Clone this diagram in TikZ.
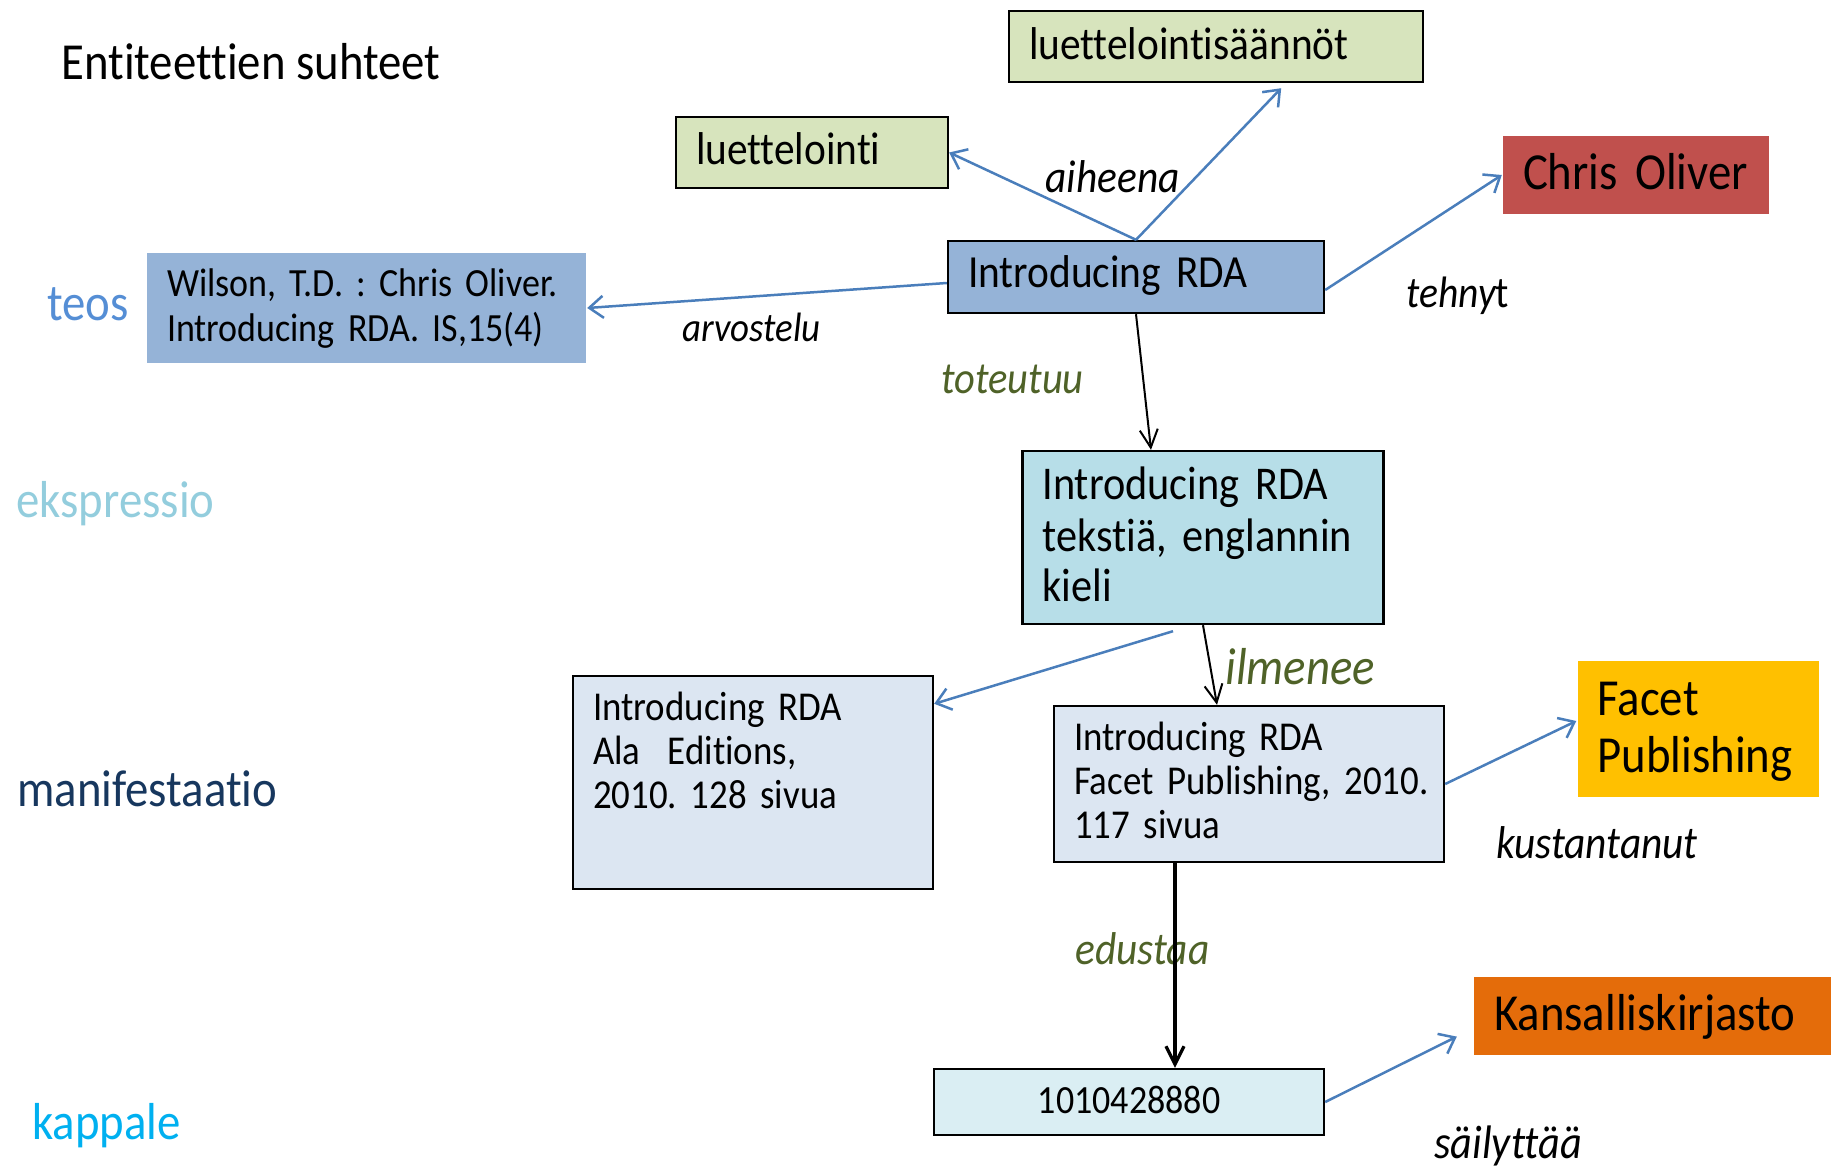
\documentclass[tikz,border=0pt]{standalone}
\usepackage{fontspec}
\setmainfont{Carlito}[FakeStretch=0.9, Ligatures=NoCommon]
\frenchspacing
\usetikzlibrary{arrows.meta}

\definecolor{subjgreen}{HTML}{D7E4BD}
\definecolor{workblue}{HTML}{95B3D7}
\definecolor{exprcyan}{HTML}{B7DEE8}
\definecolor{manifgrey}{HTML}{DCE6F2}
\definecolor{itemcyan}{HTML}{DAEEF3}
\definecolor{personred}{HTML}{C0504D}
\definecolor{pubyellow}{HTML}{FFC000}
\definecolor{liborange}{HTML}{E46C0A}
\definecolor{relblue}{HTML}{4A7EBB}
\definecolor{relgreen}{HTML}{4F6228}
\definecolor{teosblue}{HTML}{558ED5}
\definecolor{ekspcyan}{HTML}{93CDDD}
\definecolor{maninavy}{HTML}{17375E}
\definecolor{kplcyan}{HTML}{00B0F0}

\newcommand{\txtsize}[2]{\fontsize{#1pt}{#2pt}\selectfont}

\tikzset{
	ent/.style={rectangle, anchor=base, inner xsep=10pt, inner ysep=0pt, align=left, line width=1.2pt},
	level/.style={anchor=base west, inner sep=0pt, font=\txtsize{26}{28}},
	lbl/.style={anchor=base west, inner sep=0pt, font=\itshape\txtsize{23}{25}},
	rel/.style={->, relblue, line width=1.25pt},
	realize/.style={-{Straight Barb[length=9pt,width=9pt]}, line width=1pt},
}

\begin{document}
\begin{tikzpicture}[x=0.5pt, y=-0.5pt, >={Straight Barb[length=7pt,width=11pt]}]
	\useasboundingbox (0,0) rectangle (1831,1171);
	\node[anchor=base west, inner sep=0pt, font=\txtsize{26}{28}] (title) at (61,80) {Entiteettien suhteet};

	% entity levels
	\node[level, teosblue] (teos) at (47,321) {teos};
	\node[level, ekspcyan] (ekspr) at (16,517) {ekspressio};
	\node[level, maninavy] (manifl) at (17,806) {manifestaatio};
	\node[level, kplcyan] (kpl) at (32,1139) {kappale};

	% boxes
	\node[ent, draw, fill=subjgreen, text width=187pt, text height=24.5pt, text depth=11pt, font=\txtsize{23}{25}] (saannot) at (1216,60) {luettelointisäännöt};
	\node[ent, draw, fill=subjgreen, text width=116pt, text height=24pt, text depth=11.5pt, font=\txtsize{23}{25}] (luett) at (812,165) {luettelointi};
	\node[ent, fill=personred, text width=113pt, text height=27pt, text depth=12pt, font=\txtsize{26}{28}] (chris) at (1636,190) {\mbox{Chris Oliver}};
	\node[ent, draw, fill=workblue, text width=168pt, text height=23.5pt, text depth=12.5pt, font=\txtsize{23}{25}] (work) at (1136,288) {Introducing RDA};
	\node[ent, fill=workblue, text width=199.5pt, text height=22pt, text depth=33pt, font=\txtsize{20}{22.5}] (wilson) at (366.5,297) {\mbox{Wilson, T.D. : Chris Oliver.}\\Introducing RDA. IS,15(4)};
	\node[ent, draw, fill=exprcyan, text width=160.5pt, text height=24.5pt, text depth=62pt, font=\txtsize{23.5}{25.5}] (expr) at (1203,500) {Introducing RDA\\tekstiä, englannin\\kieli};
	\node[ent, draw, fill=manifgrey, text width=160pt, text height=22pt, text depth=84.5pt, font=\txtsize{20.5}{22}] (ala) at (753,720) {Introducing RDA\\Ala\ \ Editions,\\2010. 128 sivua};
	\node[ent, draw, fill=manifgrey, text width=175pt, text height=22pt, text depth=56pt, font=\txtsize{20.5}{22}] (manif) at (1249,750) {Introducing RDA\\\mbox{Facet Publishing, 2010.}\\117 sivua};
	\node[ent, fill=pubyellow, text width=100.5pt, text height=27pt, text depth=41pt, font=\txtsize{26}{28.5}] (facet) at (1698,715) {Facet\\Publishing};
	\node[ent, fill=liborange, text width=158.5pt, text height=26.5pt, text depth=12.5pt, font=\txtsize{26}{28}] (kk) at (1652.5,1030) {Kansalliskirjasto};
	\node[ent, draw, fill=itemcyan, align=center, text width=175pt, text height=22pt, text depth=11pt, font=\txtsize{20}{22}] (item) at (1129,1113) {1010428880};

	% relation labels
	\node[lbl] (aiheena) at (1045,193) {aiheena};
	\node[lbl, font=\itshape\txtsize{20.5}{22}] (arvostelu) at (682,342) {arvostelu};
	\node[lbl, relgreen, font=\itshape\txtsize{22.5}{25}] (toteutuu) at (941,394) {toteutuu};
	\node[lbl, font=\itshape\txtsize{22}{25}] (tehnyt) at (1406,308) {tehny{\upshape t}};
	\node[lbl, relgreen, font=\itshape\txtsize{26}{28}] (ilmenee) at (1225,684) {ilmenee};
	\node[lbl] (kustantanut) at (1496,858) {kustantanut};
	\node[lbl, relgreen] (edustaa) at (1075,964) {edustaa};
	\node[lbl, font=\itshape\txtsize{23.5}{25}] (sailyttaa) at (1434,1158) {säilyttää};

	% relations
	\draw[rel] (work.north) -- (luett.east);
	\draw[rel] (work.north) -- ([xshift=-71.5pt,yshift=-2.5pt]saannot.south east);
	\draw[rel] ([yshift=-6.5pt]work.east) -- (chris.west);
	\draw[rel] ([yshift=-3pt]work.west) -- (wilson.east);
	\draw[realize] (work.south) -- ([xshift=-26pt]expr.north);
	\draw[rel] ([xshift=-15pt,yshift=-3pt]expr.south) -- ([yshift=-14.5pt]ala.north east);
	\draw[realize] (expr.south) -- ([xshift=-16pt]manif.north);
	\draw[rel] (manif.east) -- ([yshift=4pt]facet.west);
	\draw[realize, line width=1.6pt] ([xshift=-37pt]manif.south) -- ([xshift=-37pt]manif.south |- item.north);
	\draw[rel] (item.east) -- ([xshift=-8pt,yshift=-10.3pt]kk.west);
\end{tikzpicture}
\end{document}
